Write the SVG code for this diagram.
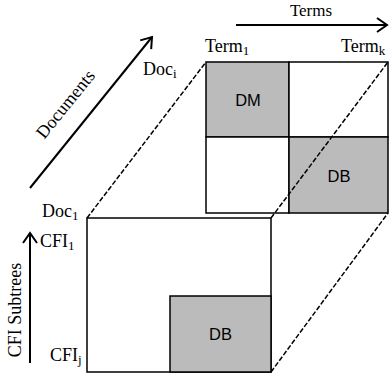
<svg xmlns="http://www.w3.org/2000/svg" width="389" height="379" viewBox="0 0 389 379">
<defs>
<style>
.cell{fill:#fff;stroke:#000;stroke-width:1.5}
.gray{fill:#bbbbbb;stroke:#000;stroke-width:1.5}
.lbl{font-family:"Liberation Sans",Arial,sans-serif;font-size:16.5px;text-anchor:middle;fill:#000}
.t{font-family:"Liberation Serif","Times New Roman",serif;font-size:18px;fill:#000}
.sub{font-size:13px}
.dash{fill:none;stroke:#000;stroke-width:1.5;stroke-dasharray:5,2}
.arrow{fill:none;stroke:#000;stroke-width:2;marker-end:url(#head)}
</style>
<marker id="head" markerUnits="userSpaceOnUse" markerWidth="20" markerHeight="20" viewBox="-12 -10 14 20" refX="0" refY="0" orient="auto">
<path d="M-10,-7 L0,0 L-10,7" fill="none" stroke="#000" stroke-width="2"/>
</marker>
</defs>
<rect width="389" height="379" fill="#fff"/>
<g id="top-matrix">
<rect class="gray" x="206" y="62" width="83" height="75"/>
<rect class="cell" x="289" y="62" width="99" height="75"/>
<rect class="cell" x="206" y="137" width="83" height="76"/>
<rect class="gray" x="289" y="137" width="99" height="76"/>
<text class="lbl" x="248" y="106">DM</text>
<text class="lbl" x="339" y="182">DB</text>
</g>
<g id="bottom-matrix">
<rect class="cell" x="87" y="218" width="184" height="154"/>
<rect class="gray" x="170" y="296" width="101" height="76"/>
<text class="lbl" x="220.5" y="340">DB</text>
</g>
<g id="connectors">
<line class="dash" x1="87" y1="218" x2="206" y2="62"/>
<line class="dash" x1="271" y1="218" x2="388" y2="62"/>
<line class="dash" x1="271" y1="372" x2="388" y2="213"/>
<line class="arrow" x1="236" y1="25" x2="387" y2="25"/>
<line class="arrow" x1="30" y1="188" x2="152" y2="37"/>
<line class="arrow" x1="30" y1="363" x2="30" y2="233"/>
</g>
<g id="labels">
<text class="t" x="311" y="16" text-anchor="middle" style="font-size:17px">Terms</text>
<text class="t" x="205" y="52">Term<tspan class="sub" dy="3">1</tspan></text>
<text class="t" x="341" y="52">Term<tspan class="sub" dy="3">k</tspan></text>
<text class="t" x="143" y="75">Doc<tspan class="sub" dy="3">i</tspan></text>
<text class="t" x="42" y="217">Doc<tspan class="sub" dy="3">1</tspan></text>
<text class="t" x="40" y="247">CFI<tspan class="sub" dy="3">1</tspan></text>
<text class="t" x="50" y="361">CFI<tspan class="sub" dy="3">j</tspan></text>
<text class="t" transform="translate(70,108) rotate(-51)" text-anchor="middle">Documents</text>
<text class="t" transform="translate(21,310) rotate(-90)" text-anchor="middle">CFI Subtrees</text>
</g>
</svg>
